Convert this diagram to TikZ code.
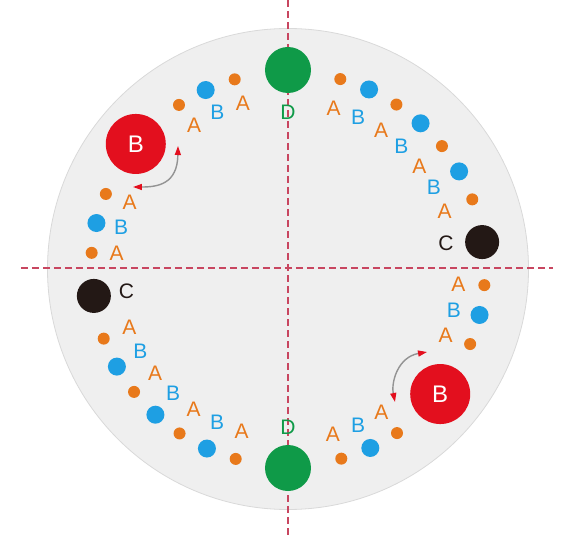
\documentclass[tikz,border=0pt]{standalone}
\usepackage{fontspec}
\setmainfont{Liberation Sans}
\usetikzlibrary{arrows.meta}
\definecolor{dotorange}{HTML}{E8791B}
\definecolor{dotblue}{HTML}{1E9FE3}
\definecolor{dotgreen}{HTML}{0F9A48}
\definecolor{dotred}{HTML}{E30F1E}
\definecolor{dotblack}{HTML}{231815}
\definecolor{diskgray}{HTML}{EFEFEF}
\definecolor{guidered}{HTML}{C84660}

\begin{document}
\begin{tikzpicture}[x=1pt,y=1pt,
    dotA/.style={circle,fill=dotorange,inner sep=0pt,minimum size=12pt},
    dotB/.style={circle,fill=dotblue,inner sep=0pt,minimum size=18pt},
    txtA/.style={inner sep=0pt,text=dotorange,font=\fontsize{21}{21}\selectfont},
    txtB/.style={txtA,text=dotblue},
    big/.style={circle,inner sep=0pt,font=\fontsize{24}{24}\selectfont},
    guide/.style={guidered,line width=1.5pt,dash pattern=on 7pt off 4pt},
    swing/.style={draw=gray!85,line width=1.4pt,<->,
                  >={Triangle[length=9pt,width=6pt,color=dotred]}}]
  \useasboundingbox (-288,-272) rectangle (288,269);
  \fill[diskgray,draw=gray!30,line width=0.8pt] (0,0) circle (240.5);
  % dashed axes
  \coordinate (hl) at (-267,1);  \coordinate (hr) at (265,1);
  \coordinate (vt) at (0,269);   \coordinate (vb) at (0,-269);
  \draw[guide] (hl) -- (hr);
  \draw[guide] (vt) -- (vb);
  % ring: upper right and its half-turn copy
  \foreach \a/\k [count=\i] in {74.6/A,65.7/B,56.6/A,47.7/B,38.6/A,29.7/B,20.7/A}{
    \node[dot\k] (ne\i) at (\a:197) {};
    \node[txt\k] (nel\i) at (\a-0.5:167) {\k};
    \node[dot\k] (sw\i) at (\a+180:197) {};
    \node[txt\k] (swl\i) at (\a+179.5:169) {\k};
  }
  % ring: upper left and its half-turn copy
  \foreach \a/\k [count=\i] in {105.7/A,114.7/B,123.6/A,157.6/A,166.5/B,175.3/A}{
    \node[dot\k] (nw\i) at (\a:197) {};
    \node[txt\k] (nwl\i) at (\a-0.5:172) {\k};
    \node[dot\k] (se\i) at (\a+180:197) {};
    \node[txt\k] (sel\i) at (\a+179.5:171) {\k};
  }
  % D
  \node[big,fill=dotgreen,minimum size=46pt] (dN) at (90:199) {};
  \node[txtA,text=dotgreen] (dNl) at (90:157) {D};
  \node[big,fill=dotgreen,minimum size=46pt] (dS) at (270:199) {};
  \node[txtA,text=dotgreen] (dSl) at (270:158) {D};
  % C
  \node[big,fill=dotblack,minimum size=34pt] (cE) at (7.9:196) {};
  \node[txtA,text=dotblack] (cEl) at (9.3:160) {C};
  \node[big,fill=dotblack,minimum size=34pt] (cW) at (187.9:196) {};
  \node[txtA,text=dotblack] (cWl) at (187.7:163) {C};
  % big B
  \node[big,fill=dotred,minimum size=60pt,text=white] (bNW) at (140.6:197) {B};
  \node[big,fill=dotred,minimum size=60pt,text=white] (bSE) at (320.6:197) {B};
  % swing arrows
  \coordinate (sNWa) at (-110,123);  \coordinate (sNWb) at (-155,82);
  \draw[swing] (sNWa) .. controls (-110.5,85) and (-130,82) .. (sNWb);
  \coordinate (sSEa) at (139,-83);   \coordinate (sSEb) at (107,-133);
  \draw[swing] (sSEa) .. controls (110,-88) and (103,-113) .. (sSEb);
\end{tikzpicture}
\end{document}
